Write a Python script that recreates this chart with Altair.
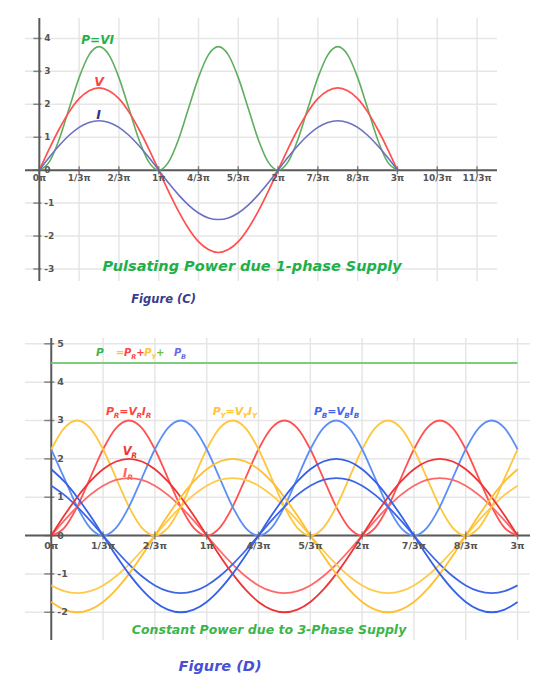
import altair as alt
import pandas as pd

X_PI = [0, 0.0833, 0.1667, 0.25, 0.3333, 0.4167, 0.5, 0.5833, 0.6667, 0.75, 0.8333, 0.9167,
        1, 1.0833, 1.1667, 1.25, 1.3333, 1.4167, 1.5, 1.5833, 1.6667, 1.75, 1.8333, 1.9167,
        2, 2.0833, 2.1667, 2.25, 2.3333, 2.4167, 2.5, 2.5833, 2.6667, 2.75, 2.8333, 2.9167, 3]

# Figure (C): single phase
C_V = [0, 0.65, 1.25, 1.77, 2.17, 2.41, 2.5, 2.41, 2.17, 1.77, 1.25, 0.65, 0, -0.65, -1.25, -1.77, -2.17, -2.41,
       -2.5, -2.41, -2.17, -1.77, -1.25, -0.65, 0, 0.65, 1.25, 1.77, 2.17, 2.41, 2.5, 2.41, 2.17, 1.77, 1.25, 0.65, 0]
C_I = [0, 0.39, 0.75, 1.06, 1.3, 1.45, 1.5, 1.45, 1.3, 1.06, 0.75, 0.39, 0, -0.39, -0.75, -1.06, -1.3, -1.45,
       -1.5, -1.45, -1.3, -1.06, -0.75, -0.39, 0, 0.39, 0.75, 1.06, 1.3, 1.45, 1.5, 1.45, 1.3, 1.06, 0.75, 0.39, 0]
C_P = [0, 0.25, 0.94, 1.88, 2.81, 3.5, 3.75, 3.5, 2.81, 1.88, 0.94, 0.25, 0, 0.25, 0.94, 1.88, 2.81, 3.5,
       3.75, 3.5, 2.81, 1.88, 0.94, 0.25, 0, 0.25, 0.94, 1.88, 2.81, 3.5, 3.75, 3.5, 2.81, 1.88, 0.94, 0.25, 0]

# Figure (D): three phase
D_VR = [0, 0.52, 1, 1.41, 1.73, 1.93, 2, 1.93, 1.73, 1.41, 1, 0.52, 0, -0.52, -1, -1.41, -1.73, -1.93,
        -2, -1.93, -1.73, -1.41, -1, -0.52, 0, 0.52, 1, 1.41, 1.73, 1.93, 2, 1.93, 1.73, 1.41, 1, 0.52, 0]
D_IR = [0, 0.39, 0.75, 1.06, 1.3, 1.45, 1.5, 1.45, 1.3, 1.06, 0.75, 0.39, 0, -0.39, -0.75, -1.06, -1.3, -1.45,
        -1.5, -1.45, -1.3, -1.06, -0.75, -0.39, 0, 0.39, 0.75, 1.06, 1.3, 1.45, 1.5, 1.45, 1.3, 1.06, 0.75, 0.39, 0]
D_PR = [0, 0.2, 0.75, 1.5, 2.25, 2.8, 3, 2.8, 2.25, 1.5, 0.75, 0.2, 0, 0.2, 0.75, 1.5, 2.25, 2.8,
        3, 2.8, 2.25, 1.5, 0.75, 0.2, 0, 0.2, 0.75, 1.5, 2.25, 2.8, 3, 2.8, 2.25, 1.5, 0.75, 0.2, 0]
D_VY = [-1.73, -1.93, -2, -1.93, -1.73, -1.41, -1, -0.52, 0, 0.52, 1, 1.41, 1.73, 1.93, 2, 1.93, 1.73, 1.41,
        1, 0.52, 0, -0.52, -1, -1.41, -1.73, -1.93, -2, -1.93, -1.73, -1.41, -1, -0.52, 0, 0.52, 1, 1.41, 1.73]
D_IY = [-1.3, -1.45, -1.5, -1.45, -1.3, -1.06, -0.75, -0.39, 0, 0.39, 0.75, 1.06, 1.3, 1.45, 1.5, 1.45, 1.3, 1.06,
        0.75, 0.39, 0, -0.39, -0.75, -1.06, -1.3, -1.45, -1.5, -1.45, -1.3, -1.06, -0.75, -0.39, 0, 0.39, 0.75, 1.06, 1.3]
D_PY = [2.25, 2.8, 3, 2.8, 2.25, 1.5, 0.75, 0.2, 0, 0.2, 0.75, 1.5, 2.25, 2.8, 3, 2.8, 2.25, 1.5,
        0.75, 0.2, 0, 0.2, 0.75, 1.5, 2.25, 2.8, 3, 2.8, 2.25, 1.5, 0.75, 0.2, 0, 0.2, 0.75, 1.5, 2.25]
D_VB = [1.73, 1.41, 1, 0.52, 0, -0.52, -1, -1.41, -1.73, -1.93, -2, -1.93, -1.73, -1.41, -1, -0.52, 0, 0.52,
        1, 1.41, 1.73, 1.93, 2, 1.93, 1.73, 1.41, 1, 0.52, 0, -0.52, -1, -1.41, -1.73, -1.93, -2, -1.93, -1.73]
D_IB = [1.3, 1.06, 0.75, 0.39, 0, -0.39, -0.75, -1.06, -1.3, -1.45, -1.5, -1.45, -1.3, -1.06, -0.75, -0.39, 0, 0.39,
        0.75, 1.06, 1.3, 1.45, 1.5, 1.45, 1.3, 1.06, 0.75, 0.39, 0, -0.39, -0.75, -1.06, -1.3, -1.45, -1.5, -1.45, -1.3]
D_PB = [2.25, 1.5, 0.75, 0.2, 0, 0.2, 0.75, 1.5, 2.25, 2.8, 3, 2.8, 2.25, 1.5, 0.75, 0.2, 0, 0.2,
        0.75, 1.5, 2.25, 2.8, 3, 2.8, 2.25, 1.5, 0.75, 0.2, 0, 0.2, 0.75, 1.5, 2.25, 2.8, 3, 2.8, 2.25]
D_PTOT_X = [0, 3]
D_PTOT = [4.5, 4.5]

C_XTICKS = [0, 1/3, 2/3, 1, 4/3, 5/3, 2, 7/3, 8/3, 3, 10/3, 11/3]
C_XLABELS = ["0π", "1/3π", "2/3π", "1π", "4/3π", "5/3π", "2π", "7/3π", "8/3π", "3π", "10/3π", "11/3π"]
C_YTICKS = [-3, -2, -1, 0, 1, 2, 3, 4]
D_XTICKS = [0, 1/3, 2/3, 1, 4/3, 5/3, 2, 7/3, 8/3, 3]
D_XLABELS = ["0π", "1/3π", "2/3π", "1π", "4/3π", "5/3π", "2π", "7/3π", "8/3π", "3π"]
D_YTICKS = [-2, -1, 0, 1, 2, 3, 4, 5]

# ---------------- styling / layout ----------------
FONT = "DejaVu Sans"
GRID = "#e6e6e6"
AXC = "#5a5a5a"
LAB = "#555555"

C_W, C_H = 472, 263
C_XDOM = [-0.12, 3.834]
C_YDOM = [-3.365, 4.62]
C_SX, C_SY = C_W / (C_XDOM[1] - C_XDOM[0]), C_H / (C_YDOM[1] - C_YDOM[0])

D_W, D_H = 505, 302
D_XDOM = [-0.169, 3.080]
D_YDOM = [-2.723, 5.151]
D_SX, D_SY = D_W / (D_XDOM[1] - D_XDOM[0]), D_H / (D_YDOM[1] - D_YDOM[0])

WID = {"P": 0.733, "R": 0.770, "V": 0.774, "I": 0.372, "Y": 0.724, "B": 0.762,
       "=": 0.838, "+": 0.838, " ": 0.348}


def pieces(x0, y0, parts, size, sx, sy):
    """Lay out a label with subscripts: parts = [(text, color, is_sub)]."""
    rows, cur = [], 0.0
    for txt, col, sub in parts:
        fs = size * 0.66 if sub else size
        rows.append(dict(x=x0 + cur / sx, y=y0 - (3.0 if sub else 0.0) / sy,
                         text=txt, color=col, size=fs))
        cur += sum(WID.get(ch, 0.7) for ch in txt) * fs * 0.97
    return rows


def panel(curves, xt, xl, yt, xdom, ydom, w, h,
          ytick_size, ylab_dx, xlab_dy, lab_size, center_rows, piece_rows):
    def X():
        return alt.X("x:Q", scale=alt.Scale(domain=xdom, nice=False, zero=False), axis=None)

    def Y():
        return alt.Y("y:Q", scale=alt.Scale(domain=ydom, nice=False, zero=False), axis=None)

    xt_df = pd.DataFrame({"x": xt, "y": [0] * len(xt), "label": xl})
    yt_df = pd.DataFrame({"x": [0] * len(yt), "y": yt, "label": [str(v) for v in yt]})

    vgrid = alt.Chart(xt_df[xt_df["x"] > 0]).mark_rule(color=GRID, strokeWidth=1.5).encode(x=X())
    hgrid = alt.Chart(yt_df).mark_rule(color=GRID, strokeWidth=1.5).encode(y=Y())
    xaxis = alt.Chart(pd.DataFrame({"y": [0]})).mark_rule(color=AXC, strokeWidth=2).encode(y=Y())
    yaxis = alt.Chart(pd.DataFrame({"x": [0]})).mark_rule(color=AXC, strokeWidth=2).encode(x=X())

    lines = alt.Chart(curves).mark_line(interpolate="monotone").encode(
        x=X(), y=Y(),
        color=alt.Color("c:N", scale=None),
        strokeWidth=alt.StrokeWidth("w:Q", scale=None),
        detail="s:N",
    )

    xticks = alt.Chart(xt_df).mark_tick(orient="vertical", size=8, thickness=1.5, color=AXC).encode(x=X(), y=Y())
    yticks = alt.Chart(yt_df).mark_tick(orient="horizontal", size=ytick_size, thickness=1.5,
                                        color=AXC, xOffset=-2).encode(x=X(), y=Y())
    xlabels = alt.Chart(xt_df).mark_text(align="center", baseline="top", dy=xlab_dy, font=FONT,
                                         fontWeight="bold", fontSize=lab_size, color=LAB).encode(
        x=X(), y=Y(), text="label:N")
    ylabels = alt.Chart(yt_df).mark_text(align="left", baseline="middle", dx=ylab_dx, font=FONT,
                                         fontWeight="bold", fontSize=lab_size, color=LAB).encode(
        x=X(), y=Y(), text="label:N")

    centered = alt.Chart(pd.DataFrame(center_rows)).mark_text(
        align="center", baseline="middle", font=FONT, fontWeight="bold", fontStyle="italic").encode(
        x=X(), y=Y(), text="text:N",
        color=alt.Color("color:N", scale=None), size=alt.Size("size:Q", scale=None))

    layers = [vgrid, hgrid, xaxis, yaxis, lines, xticks, yticks, xlabels, ylabels, centered]
    if piece_rows:
        layers.append(alt.Chart(pd.DataFrame(piece_rows)).mark_text(
            align="left", baseline="alphabetic", font=FONT, fontWeight="bold", fontStyle="italic").encode(
            x=X(), y=Y(), text="text:N",
            color=alt.Color("color:N", scale=None), size=alt.Size("size:Q", scale=None)))
    return alt.layer(*layers).properties(width=w, height=h)


# ---------------- Figure (C) ----------------
c_rows = []
for name, vals, col, wdt in [("P", C_P, "#5fae5f", 1.6), ("V", C_V, "#ff4f4f", 1.7), ("I", C_I, "#6b70c0", 1.6)]:
    for xv, yv in zip(X_PI, vals):
        c_rows.append({"x": xv, "y": yv, "s": name, "c": col, "w": wdt})
c_curves = pd.DataFrame(c_rows)

c_text = [
    dict(x=0.488, y=3.96, text="P=VI", color="#1fb14a", size=12),
    dict(x=0.50, y=2.68, text="V", color="#ff4242", size=12.5),
    dict(x=0.496, y=1.68, text="I", color="#30348a", size=12.5),
    dict(x=1.783, y=-2.94, text="Pulsating Power due 1-phase Supply", color="#20b04a", size=14.5),
    dict(x=1.041, y=-3.95, text="Figure (C)", color="#3a3d8c", size=11.5),
]

fig_c = panel(c_curves, C_XTICKS, C_XLABELS, C_YTICKS, C_XDOM, C_YDOM, C_W, C_H,
              8, 5, 4, 9, c_text, [])

# ---------------- Figure (D) ----------------
d_rows = []
d_series = [
    ("PR", D_PR, "#ff5252", 1.8), ("PY", D_PY, "#ffc63d", 1.8), ("PB", D_PB, "#5b8ff5", 1.8),
    ("IR", D_IR, "#ff6868", 1.8), ("IY", D_IY, "#ffca4a", 1.8), ("IB", D_IB, "#3d66e6", 1.8),
    ("VR", D_VR, "#ee3535", 1.8), ("VY", D_VY, "#ffbf30", 1.8), ("VB", D_VB, "#3560e8", 1.8),
]
for name, vals, col, wdt in d_series:
    for xv, yv in zip(X_PI, vals):
        d_rows.append({"x": xv, "y": yv, "s": name, "c": col, "w": wdt})
for xv, yv in zip(D_PTOT_X, D_PTOT):
    d_rows.append({"x": xv, "y": yv, "s": "P", "c": "#7ecb7e", "w": 2})
d_curves = pd.DataFrame(d_rows)

RED, YEL, BLU, GRN = "#ff4545", "#ffc533", "#4466ee", "#3cb44b"
d_pieces = []
d_pieces += pieces(0.2877, 4.692, [("P", GRN, False)], 10.5, D_SX, D_SY)
d_pieces += pieces(0.4163, 4.692, [("=", YEL, False), ("P", RED, False), ("R", RED, True), ("+", RED, False),
                                   ("P", YEL, False), ("Y", YEL, True), ("+", "#6cbf3c", False)], 10, D_SX, D_SY)
d_pieces += pieces(0.7896, 4.692, [("P", "#6a6ae6", False), ("B", "#6a6ae6", True)], 10, D_SX, D_SY)
d_pieces += pieces(0.352, 3.138, [("P", RED, False), ("R", RED, True), ("=V", RED, False), ("R", RED, True),
                                  ("I", RED, False), ("R", RED, True)], 11, D_SX, D_SY)
d_pieces += pieces(1.0386, 3.138, [("P", YEL, False), ("Y", YEL, True), ("=V", YEL, False), ("Y", YEL, True),
                                   ("I", YEL, False), ("Y", YEL, True)], 11, D_SX, D_SY)
d_pieces += pieces(1.690, 3.138, [("P", BLU, False), ("B", BLU, True), ("=V", BLU, False), ("B", BLU, True),
                                  ("I", BLU, False), ("B", BLU, True)], 11, D_SX, D_SY)
d_pieces += pieces(0.4595, 2.094, [("V", "#f03535", False), ("R", "#f03535", True)], 11.5, D_SX, D_SY)
d_pieces += pieces(0.4614, 1.527, [("I", "#ff6060", False), ("R", "#ff6060", True)], 11.5, D_SX, D_SY)

d_text = [
    dict(x=1.401, y=-2.462, text="Constant Power due to 3-Phase Supply", color="#3cb44b", size=12.5),
    dict(x=1.086, y=-3.43, text="Figure (D)", color="#4a4fd4", size=14.5),
]

fig_d = panel(d_curves, D_XTICKS, D_XLABELS, D_YTICKS, D_XDOM, D_YDOM, D_W, D_H,
              10, 6, 5, 9.5, d_text, d_pieces)

chart = alt.vconcat(fig_c, fig_d, spacing=57, bounds="flush").properties(
    padding={"left": 16, "top": 9, "right": 5, "bottom": 5},
    background="white",
).configure_view(stroke=None)

chart.save("out.html", embed_options={"renderer": "svg", "actions": False})
